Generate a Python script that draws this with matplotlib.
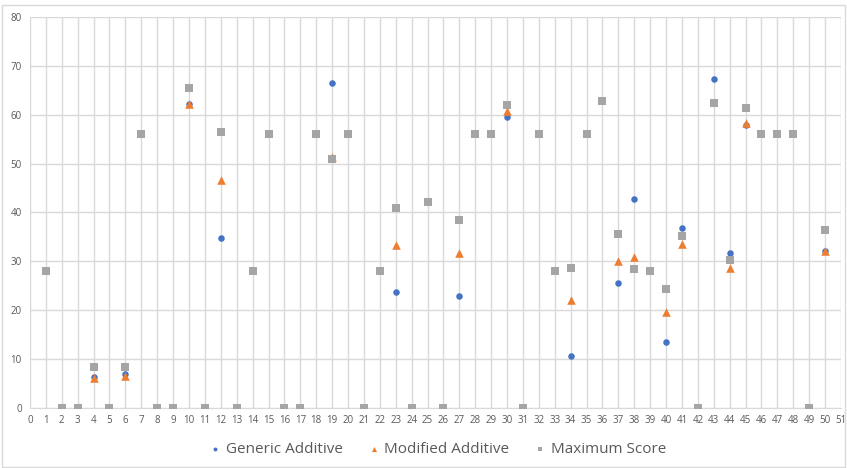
import numpy as np
import matplotlib
matplotlib.use('Agg')
import matplotlib.pyplot as plt
from matplotlib.patches import Rectangle

# x positions 1..50
items = list(range(1, 51))

maximum_score = [28, 0, 0, 8.4, 0, 8.4, 56, 0, 0, 65.4,
                 0, 56.4, 0, 28, 56, 0, 0, 56, 51.0, 56,
                 0, 28, 40.9, 0, 42.1, 0, 38.5, 56, 56, 61.9,
                 0, 56, 28, 28.6, 56, 62.9, 35.5, 28.5, 28, 24.4,
                 35.2, 0, 62.4, 30.3, 61.4, 56, 56, 56, 0, 36.4]

generic_additive = {4: 6.3, 6: 7.0, 10: 62.1, 12: 34.7, 19: 66.4, 23: 23.7,
                    27: 23.0, 30: 59.5, 34: 10.6, 37: 25.5, 38: 42.8, 40: 13.6,
                    41: 36.9, 43: 67.4, 44: 31.7, 45: 58.0, 50: 32.2}

modified_additive = {4: 6.2, 6: 6.6, 10: 62.1, 12: 46.6, 19: 51.3, 23: 33.4,
                     27: 31.8, 30: 60.8, 34: 22.0, 37: 30.1, 38: 30.8, 40: 19.6,
                     41: 33.5, 44: 28.6, 45: 58.4, 50: 32.2}

BLUE = '#4472C4'
ORANGE = '#ED7D31'
GRAY = '#A5A5A5'
TXT = '#595959'
GRID = '#D9D9D9'

plt.rcParams['font.family'] = ['Open Sans', 'DejaVu Sans']

fig = plt.figure(figsize=(8.47, 4.68), dpi=100)
fig.patches.append(Rectangle((0.002, 0.002), 0.996, 0.988, transform=fig.transFigure,
                             fill=False, edgecolor=GRID, linewidth=1))
ax = fig.add_axes([0.0354, 0.1282, 0.9575, 0.8355])

gx = sorted(generic_additive)
mx = sorted(modified_additive)
ax.scatter(gx, [generic_additive[k] for k in gx], s=22, marker='o', color=BLUE,
           label='Generic Additive', zorder=3, linewidths=0)
ax.scatter(mx, [modified_additive[k] for k in mx], s=38, marker='^', color=ORANGE,
           label='Modified Additive', zorder=4, linewidths=0)
ax.scatter(items, maximum_score, s=34, marker='s', color=GRAY,
           label='Maximum Score', zorder=5, linewidths=0)

ax.set_xlim(0, 51)
ax.set_ylim(0, 80)
ax.set_xticks(range(0, 52))
ax.set_yticks(range(0, 81, 10))
ax.grid(True, color=GRID, linewidth=1)
ax.set_axisbelow(True)
for side in ['top', 'right', 'left']:
    ax.spines[side].set_visible(False)
ax.spines['bottom'].set_color(GRID)
ax.tick_params(axis='both', length=0, labelsize=7, colors=TXT, pad=5)
ax.tick_params(axis='y', pad=6)

leg = fig.legend(loc='center', bbox_to_anchor=(0.515, 0.04), ncol=3, frameon=False,
                 fontsize=11, markerscale=0.6, handletextpad=0.1, handlelength=1.2,
                 columnspacing=1.4)
for t in leg.get_texts():
    t.set_color(TXT)

fig.savefig('out.png', dpi=100)
